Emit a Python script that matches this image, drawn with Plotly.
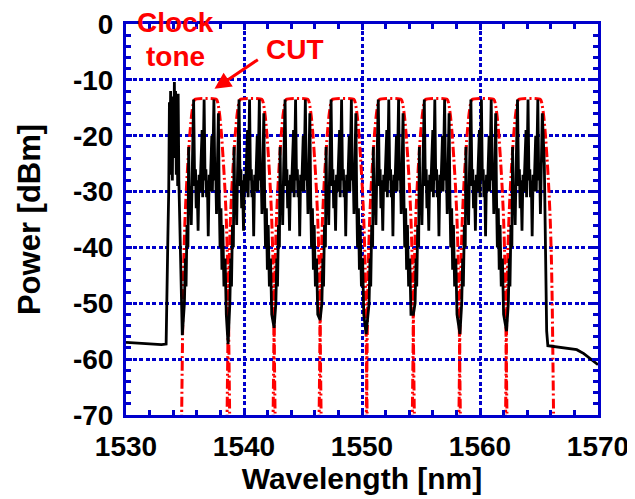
import plotly.graph_objects as go

# ---------------- data ----------------
# baseline + clock tone (wavelength nm, power dBm)
lead_wl = [1530.0, 1531.0, 1532.0, 1533.0, 1533.40, 1533.48, 1533.55, 1533.62, 1533.68,
           1533.72, 1533.78, 1533.83, 1533.88, 1533.93, 1533.98, 1534.03, 1534.10,
           1534.15, 1534.20, 1534.26, 1534.32, 1534.38, 1534.42, 1534.48, 1534.55, 1534.62]
lead_db = [-57.0, -57.1, -57.3, -57.4, -57.3, -50.0, -38.0, -30.0, -14.0,
           -27.0, -12.0, -25.0, -13.0, -28.0, -15.0, -24.0, -10.4,
           -22.0, -12.0, -27.0, -13.0, -29.0, -12.5, -28.0, -35.0, -45.0]

# channel centres (nm) of the 8 channels under test
channel_centers = [1536.75, 1540.60, 1544.50, 1548.40, 1552.40, 1556.30, 1560.25, 1564.20]

# deep notches between channels (position nm, level dBm)
gap_wl = [1534.77, 1538.65, 1542.55, 1546.45, 1550.35, 1554.35, 1558.30, 1562.25]
gap_db = [-55.7, -57.3, -54.4, -53.0, -55.5, -52.0, -55.5, -55.0]

# measured spectrum shape of one channel (offset from centre nm, dBm)
chan_off = [-1.80, -1.72, -1.66, -1.58, -1.50, -1.44, -1.38, -1.30, -1.22, -1.15,
            -1.02, -0.93, -0.86, -0.80, -0.73, -0.64, -0.56, -0.48, -0.40, -0.30,
            -0.25, -0.13, -0.05, 0.02, 0.08, 0.15, 0.22, 0.30, 0.38, 0.45,
            0.52, 0.57, 0.70, 0.78, 0.85, 0.92, 0.98, 1.08, 1.15, 1.22,
            1.30, 1.38, 1.45, 1.55, 1.65, 1.75]
chan_db = [-50.0, -42.0, -47.0, -36.0, -40.0, -22.0, -33.0, -29.0, -36.0, -27.0,
           -13.5, -29.0, -26.0, -33.0, -28.0, -37.0, -27.0, -30.0, -26.0, -19.0,
           -31.0, -13.5, -28.0, -26.0, -31.0, -28.0, -38.0, -27.0, -30.0, -26.0,
           -20.0, -30.0, -13.5, -28.0, -26.0, -34.0, -29.0, -16.0, -31.0, -40.0,
           -33.0, -44.0, -36.0, -47.0, -42.0, -52.0]
last_chan_points = 38  # last channel ends after its final peak

# amplified spontaneous emission floor after the band
tail_wl = [1565.45, 1565.55, 1565.65, 1565.75, 1566.5, 1567.5, 1568.2, 1568.8, 1569.3, 1569.7, 1570.0]
tail_db = [-25.0, -45.0, -55.0, -57.6, -57.8, -58.0, -58.3, -59.0, -59.8, -60.5, -61.0]

# filter (WSS) passband profile (offset nm, dBm)
filt_off = [-2.06, -1.98, -1.92, -1.85, -1.75, -1.62, -1.48, -1.35, -1.20, -1.05, -0.92,
            0.92, 1.05, 1.20, 1.35, 1.48, 1.62, 1.75, 1.85, 1.92, 1.98, 2.06]
filt_db = [-75.0, -60.0, -50.0, -42.0, -35.0, -29.0, -24.0, -20.0, -16.5, -14.3, -13.5,
           -13.5, -14.3, -16.5, -20.0, -24.0, -29.0, -35.0, -42.0, -50.0, -60.0, -75.0]

x_ticks = [1530, 1540, 1550, 1560, 1570]
y_ticks = [0, -10, -20, -30, -40, -50, -60, -70]

# ---------------- assemble spectrum ----------------
spec_x = list(lead_wl)
spec_y = list(lead_db)
n = len(channel_centers)
for i, c in enumerate(channel_centers):
    spec_x.append(gap_wl[i])
    spec_y.append(gap_db[i])
    k = last_chan_points if i == n - 1 else len(chan_off)
    spec_x += [c + o for o in chan_off[:k]]
    spec_y += chan_db[:k]
spec_x += tail_wl
spec_y += tail_db

BLUE = "rgb(0,0,204)"
fig = go.Figure()

for c in channel_centers:
    fig.add_trace(go.Scatter(
        x=[c + o for o in filt_off], y=filt_db, mode="lines",
        line=dict(color="red", width=3, dash="10px,3px,2px,3px", shape="spline", smoothing=0.6),
        showlegend=False, hoverinfo="skip"))

fig.add_trace(go.Scatter(x=spec_x, y=spec_y, mode="lines",
                         line=dict(color="black", width=2.8),
                         showlegend=False))

font_fam = "Liberation Sans, Arial, sans-serif"
axis_common = dict(
    showline=True, linecolor=BLUE, linewidth=3, mirror="allticks",
    ticks="inside", ticklen=6, tickwidth=2.5, tickcolor=BLUE,
    showgrid=True, gridcolor=BLUE, gridwidth=2.5, griddash="4px,2.5px",
    zeroline=False, automargin=False,
    tickfont=dict(family=font_fam, size=28, color="black", weight="bold"),
    minor=dict(ticks="inside", ticklen=5, tickwidth=2.5, tickcolor=BLUE, dtick=2, showgrid=False),
)

fig.update_xaxes(range=[1530, 1570], tickvals=x_ticks, ticktext=[str(v) for v in x_ticks],
                 ticklabelstandoff=4,
                 title=dict(text="Wavelength [nm]", standoff=4,
                            font=dict(family=font_fam, size=30, color="black", weight="bold")),
                 **axis_common)
fig.update_yaxes(range=[-70, 0], tickvals=y_ticks, ticktext=[str(v) for v in y_ticks],
                 ticklabelstandoff=4,
                 title=dict(text="Power [dBm]", standoff=24,
                            font=dict(family=font_fam, size=31, color="black", weight="bold")),
                 **axis_common)

ann_font = dict(family=font_fam, size=28, color="red", weight="bold")
for txt, px, py in [("Clock", 0.104, 1.005), ("tone", 0.104, 0.916), ("CUT", 0.357, 0.936)]:
    fig.add_annotation(xref="paper", yref="paper", x=px, y=py, text=txt,
                       xanchor="center", yanchor="middle", showarrow=False, font=ann_font)
fig.add_annotation(x=1537.5, y=-11.6, ax=1541.3, ay=-6.2, axref="x", ayref="y",
                   text="", showarrow=True, arrowhead=2, arrowsize=1.1,
                   arrowwidth=3, arrowcolor="red")

# the page adds an 8 px body margin, so the figure is 8 px smaller and margins shifted
fig.update_layout(
    width=627, height=491,
    margin=dict(l=118, r=37, t=16, b=84),
    plot_bgcolor="white", paper_bgcolor="white",
    showlegend=False,
)

fig.write_html("out.html")
